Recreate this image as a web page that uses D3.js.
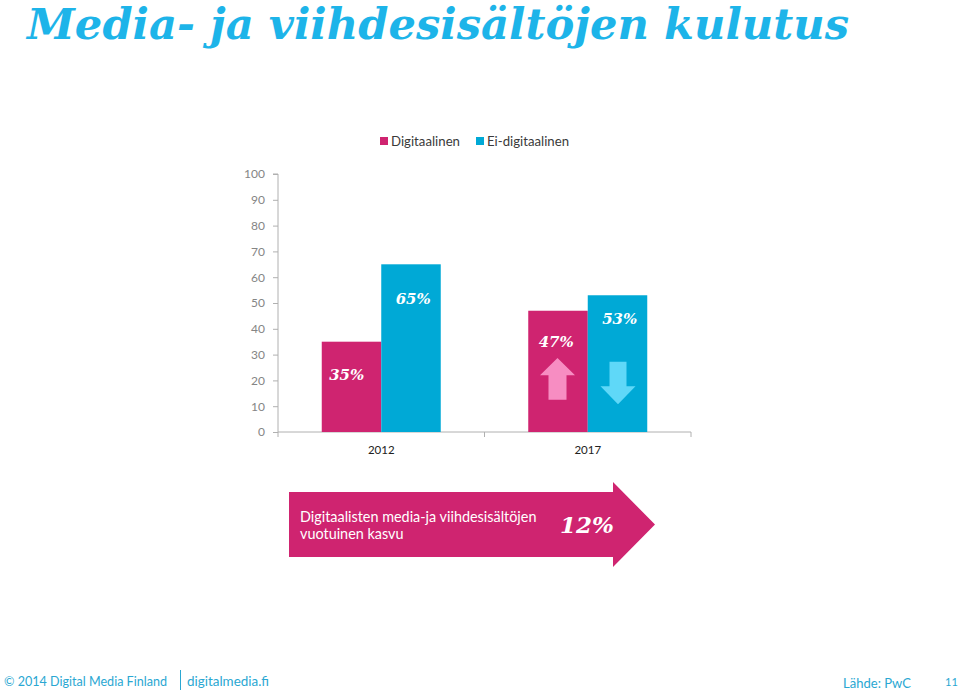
<!DOCTYPE html>
<html><head><meta charset="utf-8">
<script src="https://cdn.jsdelivr.net/npm/d3@7"></script>
<style>
html,body{margin:0;padding:0;background:#fff;}
svg{display:block;}
</style></head>
<body>
<svg id="c" width="960" height="691"></svg>
<script>
const title = "Media- ja viihdesisältöjen kulutus";
const categories = ["2012", "2017"];
const seriesNames = ["Digitaalinen", "Ei-digitaalinen"];
const digital = [35, 47];
const nonDigital = [65, 53];
const valueLabels = [["35%", "65%"], ["47%", "53%"]];
const yTicks = [0, 10, 20, 30, 40, 50, 60, 70, 80, 90, 100];
const growthText = ["Digitaalisten media-ja viihdesisältöjen", "vuotuinen kasvu"];
const growthValue = "12%";
const footerLeft = ["© 2014 Digital Media Finland", "digitalmedia.fi"];
const footerRight = ["Lähde: PwC", "11"];

const PINK = "#cf2470", BLUE = "#00a9d6", LPINK = "#f78dc2", LBLUE = "#5fd8f8";
const colors = [PINK, BLUE];
const svg = d3.select("#c");
const serif = "Georgia, 'DejaVu Serif', serif";
const sans = "Lato, 'Open Sans', sans-serif";

// Title
svg.append("text").attr("x", 27).attr("y", 39)
  .attr("font-family", "'DejaVu Serif', serif").attr("font-style", "italic").attr("font-weight", "bold")
  .attr("font-size", 42).attr("fill", "#1db4e9").attr("textLength", 822).attr("lengthAdjust", "spacingAndGlyphs")
  .text(title);

// Scales
const x0 = d3.scaleBand().domain(categories).range([278, 691]).padding(0);
const bw = x0.bandwidth();
const x1 = d3.scaleBand().domain(seriesNames).range([bw / 2 - 59.5, bw / 2 + 59.5]).padding(0);
const y = d3.scaleLinear().domain([0, 100]).range([432, 174]);

// Y axis
const yAxis = svg.append("g").attr("transform", "translate(278,0)")
  .call(d3.axisLeft(y).tickValues(yTicks).tickSize(5).tickPadding(8));
yAxis.select(".domain").attr("stroke", "#b0b0b0").attr("d", "M-5," + y(100) + "H0V" + y(0));
yAxis.selectAll(".tick line").attr("stroke", "#b0b0b0");
yAxis.selectAll(".tick text").attr("font-family", sans).attr("font-size", 12).attr("fill", "#858585");

// X axis
const xAxis = svg.append("g").attr("transform", "translate(0," + y(0) + ")")
  .call(d3.axisBottom(x0).tickSize(0).tickPadding(14));
xAxis.select(".domain").attr("stroke", "#b0b0b0").attr("d", "M278,0H691");
xAxis.selectAll(".tick text").attr("font-family", sans).attr("font-size", 11.5).attr("fill", "#222");
const seps = [x0.range()[0], x0("2017"), x0.range()[1]];
svg.append("g").selectAll("line").data(seps).join("line")
  .attr("x1", d => d).attr("x2", d => d).attr("y1", y(0)).attr("y2", y(0) + 5)
  .attr("stroke", "#b0b0b0");

// Bars
const rows = categories.map((c, i) => ({ cat: c, vals: [digital[i], nonDigital[i]], labels: valueLabels[i] }));
const groups = svg.append("g").selectAll("g").data(rows).join("g")
  .attr("transform", d => "translate(" + x0(d.cat) + ",0)");
groups.selectAll("rect").data(d => d.vals.map((v, j) => ({ v, j }))).join("rect")
  .attr("x", d => x1(seriesNames[d.j])).attr("width", x1.bandwidth())
  .attr("y", d => y(d.v)).attr("height", d => y(0) - y(d.v))
  .attr("fill", d => colors[d.j]);

// Value labels
const labelPos = [[{dx: 25, v: 20}, {dx: 32, v: 49.5}], [{dx: 28, v: 33}, {dx: 32, v: 42}]];
groups.each(function (d, i) {
  d3.select(this).selectAll("text.val").data(d.vals.map((v, j) => ({ v, j, t: d.labels[j] }))).join("text")
    .attr("class", "val")
    .attr("x", e => x1(seriesNames[e.j]) + labelPos[i][e.j].dx)
    .attr("y", e => y(labelPos[i][e.j].v))
    .attr("text-anchor", "middle")
    .attr("font-family", serif).attr("font-style", "italic").attr("font-weight", "bold")
    .attr("font-size", 15).attr("fill", "#fff").text(e => e.t);
});

// Up / down arrows inside 2017 bars
const cx1 = x0("2017") + x1(seriesNames[0]) + x1.bandwidth() / 2 - 0.5;
const upTop = y(28.7), upBot = y(12.5), upHead = y(22);
svg.append("path").attr("fill", LPINK)
  .attr("d", `M${cx1},${upTop}L${cx1 + 17.5},${upHead}H${cx1 + 9}V${upBot}H${cx1 - 9}V${upHead}H${cx1 - 17.5}Z`);
const cx2 = x0("2017") + x1(seriesNames[1]) + x1.bandwidth() / 2 + 0.5;
const dTop = y(27.2), dBot = y(10.8), dHead = y(17.7);
svg.append("path").attr("fill", LBLUE)
  .attr("d", `M${cx2 - 8.5},${dTop}H${cx2 + 8.5}V${dHead}H${cx2 + 17.5}L${cx2},${dBot}L${cx2 - 17.5},${dHead}H${cx2 - 8.5}Z`);

// Legend
const leg = svg.append("g").attr("transform", "translate(380,136)");
const legX = [0, 96];
const legW = [69, 82];
seriesNames.forEach((s, i) => {
  leg.append("rect").attr("x", legX[i]).attr("y", 1).attr("width", 8).attr("height", 8).attr("fill", colors[i]);
  leg.append("text").attr("x", legX[i] + 11).attr("y", 10).attr("font-family", sans).attr("font-size", 13)
    .attr("fill", "#3a3a3a").attr("textLength", legW[i]).attr("lengthAdjust", "spacingAndGlyphs").text(s);
});

// Growth arrow
svg.append("path").attr("fill", PINK)
  .attr("d", "M289,492H613V482L655,524.5L613,567V557H289Z");
growthText.forEach((t, i) => {
  svg.append("text").attr("x", 300).attr("y", 522 + i * 17).attr("font-family", sans)
    .attr("font-size", 14.4).attr("fill", "#fff").text(t);
});
svg.append("text").attr("x", 587).attr("y", 533).attr("text-anchor", "middle")
  .attr("font-family", serif).attr("font-style", "italic").attr("font-weight", "bold")
  .attr("font-size", 23).attr("fill", "#fff").text(growthValue);

// Footer
const FC = "#2aa7d2";
const ft = (x, yy, t, w, fs) => svg.append("text").attr("x", x).attr("y", yy).attr("font-family", sans)
  .attr("font-size", fs).attr("fill", FC).attr("textLength", w).attr("lengthAdjust", "spacingAndGlyphs").text(t);
ft(4, 686, footerLeft[0], 163, 14);
svg.append("line").attr("x1", 180.5).attr("x2", 180.5).attr("y1", 670).attr("y2", 690).attr("stroke", FC).attr("stroke-width", 1);
ft(187, 686, footerLeft[1], 82, 14);
ft(843, 688, footerRight[0], 68, 14);
svg.append("text").attr("x", 945).attr("y", 686).attr("font-family", sans).attr("font-size", 11).attr("fill", FC).text(footerRight[1]);
</script>
</body></html>
